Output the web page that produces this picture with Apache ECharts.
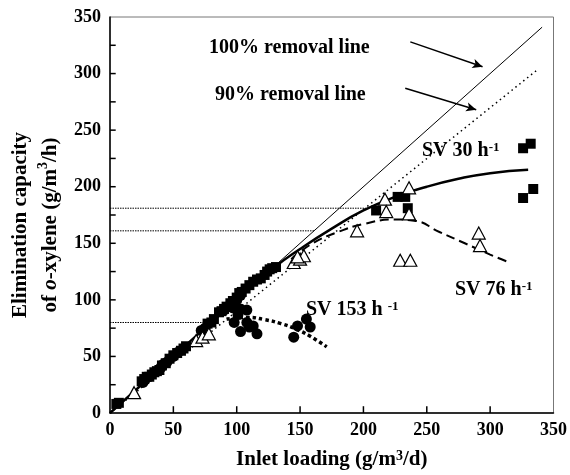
<!DOCTYPE html>
<html>
<head>
<meta charset="utf-8">
<script src="https://cdn.jsdelivr.net/npm/echarts@6/dist/echarts.min.js"></script>
<style>html,body{margin:0;padding:0;background:#fff}#c{width:570px;height:475px}</style>
</head>
<body>
<div id="c"></div>
<script>
// ---- data ----
var xTicks = [0, 50, 100, 150, 200, 250, 300, 350];
var yTicks = [0, 50, 100, 150, 200, 250, 300, 350];
var yMinorTicks = [25, 75, 125, 175, 225, 275, 325];
var line100 = [[0, 0], [341, 341]];
var line90 = [[0, 0], [338, 304]];
var refLine181 = [[0, 181], [202, 181]];
var refLine161 = [[0, 161], [161, 161]];
var refLine80 = [[0, 80], [80, 80]];
var sv30Curve = [[0, 0], [50, 50], [100, 100], [130, 129], [150, 145], [175, 163], [200, 179], [225, 191], [250, 200], [275, 207], [300, 212], [330, 215]];
var sv76Curve = [[143, 136], [160, 150], [180, 160], [200, 167], [225, 171], [240, 170], [260, 160], [280, 150], [300, 140], [313, 134]];
var sv153Curve = [[92, 83], [109, 84.5], [122, 82.5], [135, 79], [147, 74], [157, 68.5], [171, 58.5]];
var sv30Points = [[5, 8], [7, 9], [25, 28], [27, 30], [29, 32], [31, 32], [33, 34], [35, 36], [37, 37], [39, 38], [41, 42], [44, 44], [47, 48], [50, 51], [53, 53], [56, 55], [58, 57], [60, 59], [77, 79], [80, 80], [82, 83], [86, 89], [88, 90], [90, 92], [92, 94], [95, 97], [97, 99], [100, 102], [102, 106], [104, 107], [107, 110], [110, 113], [113, 116], [116, 118], [119, 119], [122, 122], [124, 125], [126, 127], [128, 128], [131, 129], [210, 179], [227, 191], [233, 191], [235, 181], [326, 234], [332, 238], [326, 190], [334, 198]];
var sv153Points = [[26, 27], [28, 30], [40, 40], [42, 43], [45, 45], [50, 50], [54, 54], [72, 73], [75, 75], [90, 91], [93, 94], [96, 96], [100, 100], [103, 104], [97, 93], [103, 92], [108, 91], [98, 80], [101, 87], [103, 72], [108, 80], [110, 76], [113, 77], [116, 70], [145, 67], [148, 77], [155, 83], [158, 76]];
var sv76Points = [[19, 18], [68, 64], [73, 67], [78, 70], [145, 133], [150, 136], [153, 139], [148, 138], [195, 161], [217, 189], [218, 178], [236, 199], [236, 176], [229, 135], [237, 135], [291, 159], [292, 148]];
var arrow100 = [[237, 328], [294, 306]];
var arrow90 = [[233, 287], [289, 268]];

// ---- chart ----
var FONT = 'Liberation Serif';
var chart = echarts.init(document.getElementById('c'), null, {renderer: 'canvas'});
var lbl = {fontFamily: FONT, fontWeight: 'bold', color: '#000'};
function richText(main, sup) {
  return {
    text: '{b|' + main + '}{s|' + sup + '}',
    rich: {
      b: {fontFamily: FONT, fontWeight: 'bold', fontSize: 20, fill: '#000'},
      s: {fontFamily: FONT, fontWeight: 'bold', fontSize: 13, fill: '#000', verticalAlign: 'top'}
    }
  };
}
function lineSeries(data, type, width, dash) {
  return {
    type: 'line', data: data, symbol: 'none', smooth: type === 'smooth', silent: true, z: 2,
    lineStyle: {color: '#000', width: width, type: dash || 'solid'}
  };
}
// tick marks drawn as short line segments starting at the axis
var tickSeries = [];
xTicks.slice(1, -1).forEach(function (v) {
  tickSeries.push({type: 'line', data: [[v, 0], [v, 6]], symbol: 'none', silent: true, z: 6, clip: false,
    lineStyle: {color: '#000', width: 1.5}});
});
yTicks.slice(1, -1).concat(yMinorTicks).forEach(function (v) {
  tickSeries.push({type: 'line', data: [[0, v], [4.5, v]], symbol: 'none', silent: true, z: 6, clip: false,
    lineStyle: {color: '#000', width: 1.5}});
});
var option = {
  animation: false,
  backgroundColor: '#fff',
  grid: {left: 110, right: 13, top: 17, bottom: 54, show: true, borderColor: '#777', borderWidth: 1},
  xAxis: {
    type: 'value', min: 0, max: 350, interval: 50,
    name: '{b|Inlet loading (g/m}{s|3}{b|/d)}',
    nameLocation: 'middle', nameGap: 36,
    nameTextStyle: {
      rich: {
        b: {fontFamily: FONT, fontWeight: 'bold', fontSize: 21, color: '#000'},
        s: {fontFamily: FONT, fontWeight: 'bold', fontSize: 14, color: '#000', verticalAlign: 'top'}
      }
    },
    axisLine: {show: true, onZero: false, lineStyle: {color: '#000', width: 1.5}},
    axisTick: {show: false},
    axisLabel: Object.assign({fontSize: 18, margin: 8, formatter: function (v) { return xTicks.indexOf(v) >= 0 ? String(v) : ''; }}, lbl),
    splitLine: {show: false}
  },
  yAxis: {
    type: 'value', min: 0, max: 350, interval: 50,
    axisLine: {show: true, onZero: false, lineStyle: {color: '#000', width: 1.5}},
    axisTick: {show: false},
    axisLabel: Object.assign({fontSize: 18, margin: 9, formatter: function (v) { return yTicks.indexOf(v) >= 0 ? String(v) : ''; }}, lbl),
    splitLine: {show: false}
  },
  series: [
    lineSeries(refLine181, 'straight', 1, [1.5, 1]),
    lineSeries(refLine161, 'straight', 1, [1.5, 1]),
    lineSeries(refLine80, 'straight', 1, [1.5, 1]),
    lineSeries(line100, 'straight', 1),
    lineSeries(line90, 'straight', 1.5, [1.5, 3.5]),
    lineSeries(sv30Curve, 'smooth', 2.5),
    lineSeries(sv76Curve, 'smooth', 2, [9, 5]),
    lineSeries(sv153Curve, 'smooth', 3.5, [3.5, 3]),
    {
      type: 'scatter', data: sv30Points, symbol: 'rect', symbolSize: 10, z: 4, silent: true,
      itemStyle: {color: '#000', opacity: 1}
    },
    {
      type: 'scatter', data: sv153Points, symbol: 'circle', symbolSize: 11, z: 4, silent: true,
      itemStyle: {color: '#000', opacity: 1}
    },
    {
      type: 'scatter', data: sv76Points, symbol: 'triangle', symbolSize: [13, 12], z: 5, silent: true,
      itemStyle: {color: '#fff', borderColor: '#000', borderWidth: 1.2, opacity: 1}
    },
    {
      type: 'line', data: [], silent: true,
      markLine: {
        silent: true, symbol: ['none', 'arrow'], symbolSize: [7, 10],
        label: {show: false},
        lineStyle: {color: '#000', width: 1.5, type: 'solid'},
        data: [
          [{coord: arrow100[0]}, {coord: arrow100[1]}],
          [{coord: arrow90[0]}, {coord: arrow90[1]}]
        ]
      }
    }
  ].concat(tickSeries),
  graphic: [
    {type: 'text', left: 209, top: 38, silent: true, style: {text: '100% removal line', font: 'bold 20px ' + FONT, fill: '#000'}},
    {type: 'text', left: 215, top: 85, silent: true, style: {text: '90% removal line', font: 'bold 20px ' + FONT, fill: '#000'}},
    {type: 'text', left: 422, top: 141, silent: true, style: richText('SV 30 h', '-1')},
    {type: 'text', left: 455, top: 280, silent: true, style: richText('SV 76 h', '-1')},
    {type: 'text', left: 306, top: 300, silent: true, style: richText('SV 153 h ', '-1')},
    {
      type: 'text', silent: true, x: 36, y: 225, rotation: Math.PI / 2,
      style: {
        text: '{b|Elimination capacity}\n{b|of }{i|o}{b|-xylene (g/m}{s|3}{b|/h)}',
        align: 'center', verticalAlign: 'middle',
        rich: {
          b: {fontFamily: FONT, fontWeight: 'bold', fontSize: 21, fill: '#000', lineHeight: 30},
          i: {fontFamily: FONT, fontWeight: 'bold', fontStyle: 'italic', fontSize: 21, fill: '#000', lineHeight: 30},
          s: {fontFamily: FONT, fontWeight: 'bold', fontSize: 14, fill: '#000', verticalAlign: 'top', lineHeight: 30}
        }
      }
    }
  ]
};
chart.setOption(option);
</script>
</body>
</html>
